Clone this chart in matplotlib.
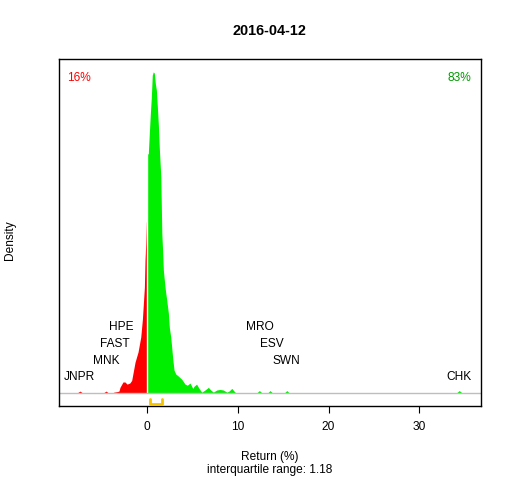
import numpy as np
import matplotlib
matplotlib.use("Agg")
import matplotlib.pyplot as plt

plt.rcParams['font.family'] = ['Liberation Sans', 'DejaVu Sans']

# density, left (negative) and right (positive) of zero
neg_x = [-8.0, -7.75, -7.39, -7.05, -4.85, -4.52, -4.2, -3.9, -3.64, -3.3, -3.09,
         -2.98, -2.65, -2.43, -2.2, -1.9, -1.69, -1.32, -0.99, -0.69, -0.51,
         -0.40, -0.29, -0.22, -0.14, -0.07, 0.0]
neg_y = [0.0, 0.0, 0.004, 0.0, 0.0, 0.004, 0.0, 0.0, 0.002, 0.003, 0.004,
         0.011, 0.021, 0.021, 0.017, 0.019, 0.024, 0.058, 0.077, 0.105, 0.138,
         0.168, 0.198, 0.249, 0.280, 0.320, 0.320]

pos_x = [0.0, 0.14, 0.25, 0.36, 0.47, 0.58, 0.69, 0.80, 0.92, 1.03, 1.14, 1.25,
         1.36, 1.52, 1.63, 1.74, 1.80, 1.91, 2.02, 2.17, 2.35, 2.46, 2.61, 2.72,
         2.83, 2.98, 3.16, 3.45, 3.83, 4.19, 4.44, 4.74, 5.04, 5.18, 5.46, 5.73,
         6.03, 6.39, 6.76, 7.02, 7.31, 7.68, 8.05, 8.41, 8.79, 9.04, 9.34, 9.59,
         9.81, 12.05, 12.38, 12.7, 13.25, 13.56, 13.85, 15.1, 15.40, 15.7,
         34.05, 34.4, 34.75, 35.0]
pos_y = [0.447, 0.447, 0.484, 0.520, 0.551, 0.594, 0.600, 0.598, 0.578, 0.566,
         0.535, 0.501, 0.456, 0.404, 0.299, 0.258, 0.230, 0.211, 0.193, 0.174,
         0.150, 0.123, 0.105, 0.086, 0.065, 0.043, 0.036, 0.032, 0.026, 0.017,
         0.015, 0.019, 0.009, 0.013, 0.017, 0.009, 0.002, 0.006, 0.011, 0.006,
         0.002, 0.006, 0.007, 0.006, 0.002, 0.004, 0.009, 0.004, 0.0, 0.0,
         0.005, 0.0, 0.0, 0.005, 0.0, 0.0, 0.005, 0.0, 0.0, 0.005, 0.0, 0.0]

# outlier tickers and where their labels sit
left_names = ['JNPR', 'MNK', 'FAST', 'HPE']
left_x = [-7.46, -4.52, -3.53, -2.79]
right_names = ['CHK', 'SWN', 'ESV', 'MRO']
right_x = [34.4, 15.4, 13.7, 12.4]
label_y = [0.030, 0.060, 0.092, 0.123]

q1, q3 = 0.36, 1.60
pct_down, pct_up = '16%', '83%'
iqr = 1.18
title = '2016-04-12'

fig = plt.figure(figsize=(5.12, 4.8), dpi=100)
ax = fig.add_axes([0.1152, 0.154, 0.8243, 0.723])

ax.fill_between(neg_x, 0, neg_y, color='#FF0000', lw=0)
ax.fill_between(pos_x, 0, pos_y, color='#00EE00', lw=0)
ax.vlines(0, 0, max(pos_y), color='white', lw=1)
ax.axhline(0, color='#BEBEBE', lw=1)

# interquartile bracket under the baseline
ax.plot([q1, q1, q3, q3], [-0.011, -0.0198, -0.0198, -0.011], color='#F5C400',
        lw=2.0, solid_joinstyle='round', solid_capstyle='round', zorder=3)

for name, x, y in zip(left_names, left_x, label_y):
    ax.text(x, y, name, ha='center', va='center', fontsize=8.6)
for name, x, y in zip(right_names, right_x, label_y):
    ax.text(x, y, name, ha='center', va='center', fontsize=8.6)

ax.text(0.019, 0.945, pct_down, transform=ax.transAxes, color='#FF0000',
        ha='left', va='center', fontsize=8.6)
ax.text(0.976, 0.945, pct_up, transform=ax.transAxes, color='#009A00',
        ha='right', va='center', fontsize=8.6)

ax.set_xlim(-9.7, 36.8)
ax.set_ylim(-0.024, 0.624)
ax.set_xticks([0, 10, 20, 30])
ax.set_yticks([])
ax.tick_params(axis='x', length=5, width=0.8, pad=6, labelsize=8.6)
for s in ax.spines.values():
    s.set_linewidth(1)

fig.text(0.527, 0.935, title, ha='center', va='center', fontsize=10.4, fontweight='bold')
fig.text(0.02, 0.5, 'Density', rotation=90, ha='center', va='center', fontsize=8.6)
fig.text(0.527, 0.048, 'Return (%)', ha='center', va='center', fontsize=8.6)
fig.text(0.527, 0.021, 'interquartile range: %.2f' % iqr, ha='center', va='center', fontsize=8.6)

fig.savefig('out.png', dpi=100)
